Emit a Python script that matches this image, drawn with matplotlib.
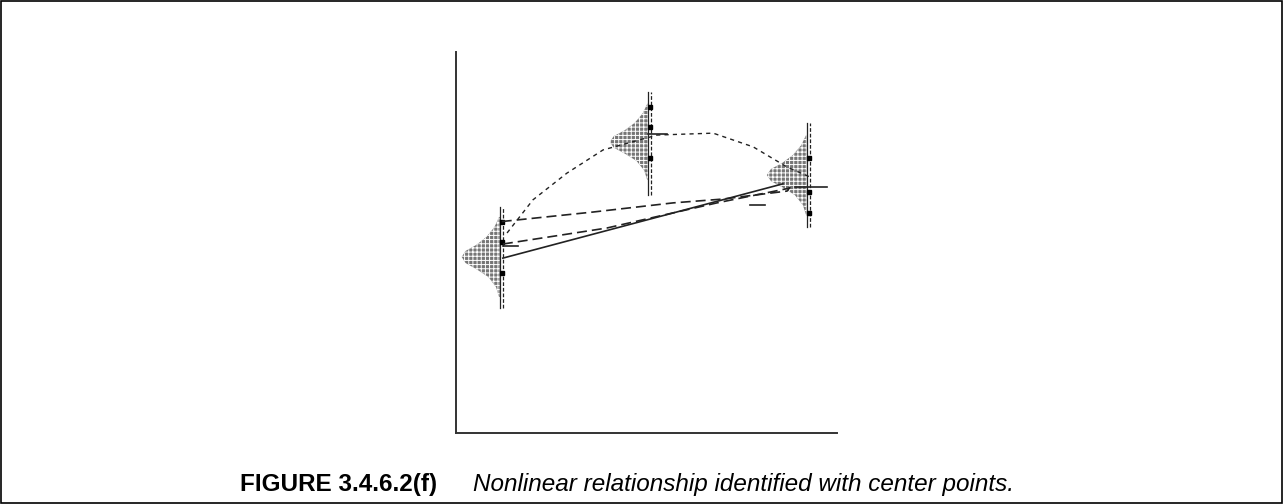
import matplotlib
matplotlib.use('Agg')
import matplotlib.pyplot as plt
from matplotlib.patches import Rectangle

# Diagram data (axis units, 0..10 on both axes)
# three response distributions: x position, centre, half-span, peak width, line span
dist_x = [1.15, 5.04, 9.21]
dist_center = [4.62, 7.64, 6.77]
dist_half = [1.05, 1.0, 1.05]
dist_width = [1.0, 1.0, 1.05]
line_lo = [3.28, 6.25, 5.41]
line_hi = [5.93, 8.95, 8.14]
marker_y = [[5.54, 5.01, 4.2], [8.56, 8.03, 7.22], [7.22, 6.33, 5.77]]

# normalised bell outline
bell_t = [-1.0, -0.75, -0.5, -0.3, -0.15, 0.0, 0.15, 0.3, 0.5, 0.75, 1.0]
bell_w = [0.02, 0.1, 0.3, 0.62, 0.9, 1.0, 0.9, 0.62, 0.35, 0.14, 0.02]

# fitted lines
solid_x = [1.23, 8.58]
solid_y = [4.59, 6.54]
upper_dash_x = [1.2, 3.6, 5.7, 7.0, 8.69, 8.77]
upper_dash_y = [5.55, 5.8, 6.04, 6.14, 6.35, 6.46]
lower_dash_x = [1.23, 3.96, 6.85, 8.77]
lower_dash_y = [4.96, 5.38, 6.04, 6.43]
curve_x = [1.34, 2.02, 2.91, 3.86, 5.28, 6.75, 7.80, 8.69, 9.29]
curve_y = [5.25, 6.12, 6.82, 7.43, 7.82, 7.87, 7.51, 6.98, 6.72]

# short centre-point ticks
ticks = [([1.23, 1.63], 4.91), ([5.04, 5.55], 7.85), ([8.9, 9.74], 6.46), ([7.72, 8.11], 5.98)]

plt.rcParams['hatch.linewidth'] = 0.7

fig = plt.figure(figsize=(12.83, 5.04), dpi=100)
ax = fig.add_axes([456 / 1283, 71 / 504, 381 / 1283, 381 / 504])
ax.set_xlim(0, 10)
ax.set_ylim(0, 10)
ax.set_xticks([])
ax.set_yticks([])
for s in ['top', 'right']:
    ax.spines[s].set_visible(False)
for s in ['left', 'bottom']:
    ax.spines[s].set_linewidth(1.4)
    ax.spines[s].set_color('#333333')

for i in range(3):
    ys = [dist_center[i] + t * dist_half[i] for t in bell_t]
    xs = [dist_x[i] - w * dist_width[i] for w in bell_w]
    ax.fill_betweenx(ys, xs, dist_x[i], facecolor='#767676', edgecolor='white',
                     hatch='++++', linewidth=0)
    ax.plot([dist_x[i], dist_x[i]], [line_lo[i], line_hi[i]], color='#222222', lw=0.9)
    ax.plot([dist_x[i] + 0.09, dist_x[i] + 0.09], [line_lo[i], line_hi[i]],
            color='#222222', lw=0.9, dashes=(3, 1.5))
    ax.plot([dist_x[i] + 0.045] * 3, marker_y[i], 's', color='black', ms=3.5)

ax.plot(solid_x, solid_y, color='#222222', lw=1.2)
ax.plot(upper_dash_x, upper_dash_y, color='#222222', lw=1.2, dashes=(6, 3))
ax.plot(lower_dash_x, lower_dash_y, color='#222222', lw=1.2, dashes=(6, 3))
ax.plot(curve_x, curve_y, color='#222222', lw=1.0, dashes=(3, 3))
for xs, y in ticks:
    ax.plot(xs, [y, y], color='#222222', lw=1.2)

fig.patches.append(Rectangle((1 / 1283, 1 / 504), 1281 / 1283, 502 / 504,
                             transform=fig.transFigure, fill=False,
                             edgecolor='black', lw=1.2))

cap_y = 1 - 491 / 504
fig.text(240 / 1283, cap_y, 'FIGURE 3.4.6.2(f)', family='Liberation Sans',
         weight='bold', fontsize=17.5, va='baseline', ha='left')
fig.text(473 / 1283, cap_y, 'Nonlinear relationship identified with center points.',
         family='Liberation Sans', style='italic', fontsize=17.5, va='baseline', ha='left')

fig.savefig('out.png', dpi=100)
